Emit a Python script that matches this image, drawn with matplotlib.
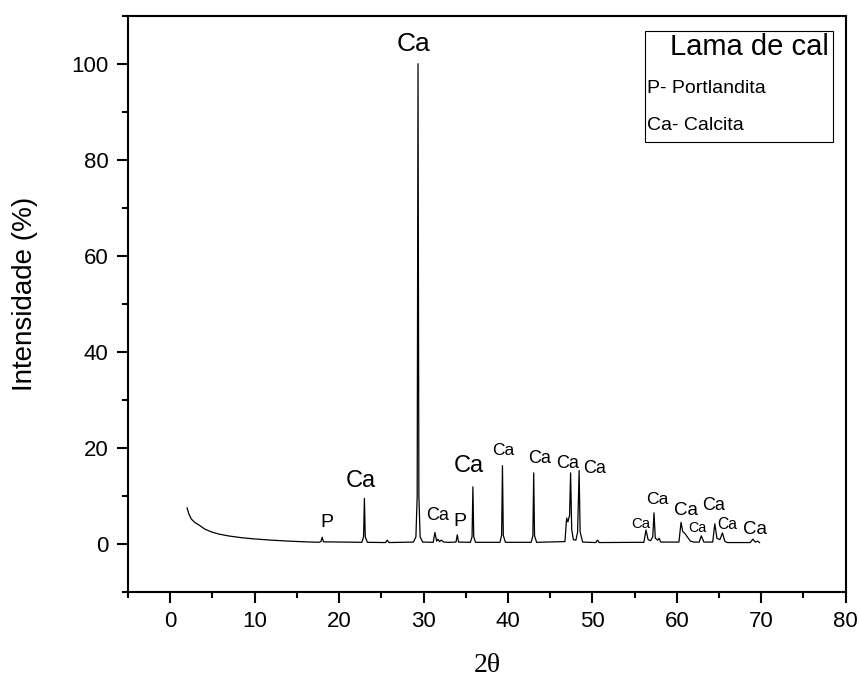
import matplotlib
matplotlib.use("Agg")
import matplotlib.pyplot as plt
from matplotlib.ticker import MultipleLocator
from matplotlib.patches import Rectangle

plt.rcParams['font.family'] = ['Liberation Sans', 'DejaVu Sans']

# difractograma da lama de cal (2theta, intensidade relativa %)
two_theta = [
    2.0, 2.2, 2.5, 2.9, 3.45, 4.1, 4.9, 5.8, 7.0, 8.5, 10.0, 12.0, 14.0, 16.0, 17.6,
    17.85, 18.0, 18.15,
    22.7, 22.9, 23.0, 23.1, 23.35,
    25.5, 25.7, 25.9,
    28.8, 29.1, 29.25, 29.35, 29.45, 29.6, 29.9,
    31.15, 31.35, 31.55, 31.7, 31.9, 32.1, 32.4, 33.0,
    33.85, 34.0, 34.15,
    35.55, 35.75, 35.85, 35.95, 36.15,
    39.05, 39.25, 39.35, 39.45, 39.7,
    42.75, 42.95, 43.05, 43.15, 43.4,
    46.75, 46.95, 47.1, 47.3, 47.42, 47.55, 47.75, 48.05, 48.25, 48.43, 48.55, 48.85,
    50.4, 50.6, 50.8,
    56.1, 56.35, 56.6, 56.9, 57.15, 57.3, 57.45, 57.75, 57.9, 58.1,
    60.25, 60.5, 60.7, 60.95, 61.2, 61.6, 62.0,
    62.65, 62.9, 63.2,
    64.25, 64.5, 64.75, 65.1, 65.4, 65.7, 66.0,
    68.7, 69.0, 69.3, 69.55, 69.8,
]
intensity = [
    7.5, 6.3, 5.2, 4.5, 3.9, 3.1, 2.5, 2.05, 1.65, 1.3, 1.05, 0.8, 0.6, 0.45, 0.35,
    0.5, 1.4, 0.45,
    0.35, 1.5, 9.5, 1.5, 0.35,
    0.3, 0.8, 0.3,
    0.4, 1.5, 10.0, 100.0, 10.0, 1.5, 0.4,
    0.35, 2.4, 0.6, 1.0, 0.5, 0.8, 0.4, 0.35,
    0.4, 1.9, 0.4,
    0.35, 1.5, 11.9, 1.5, 0.35,
    0.35, 1.8, 16.3, 1.8, 0.35,
    0.35, 1.7, 14.8, 1.7, 0.35,
    0.5, 5.4, 4.6, 6.0, 14.8, 3.0, 0.9, 0.8, 2.5, 15.3, 2.5, 0.4,
    0.3, 0.8, 0.3,
    0.35, 2.9, 0.9, 0.7, 1.5, 6.5, 1.2, 0.8, 1.2, 0.4,
    0.4, 4.5, 2.6, 2.2, 1.6, 0.6, 0.4,
    0.4, 1.7, 0.4,
    0.4, 4.2, 1.2, 0.9, 2.3, 0.5, 0.3,
    0.3, 1.0, 0.4, 0.6, 0.3,
]

# rótulos das fases: texto, x, y (linha de base), tamanho
peak_text = ['Ca', 'Ca', 'P', 'Ca', 'P', 'Ca', 'Ca', 'Ca', 'Ca', 'Ca',
             'Ca', 'Ca', 'Ca', 'Ca', 'Ca', 'Ca', 'Ca']
peak_x = [28.8, 22.55, 18.6, 31.64, 34.3, 35.4, 39.4, 43.7, 47.05, 50.3,
          55.76, 57.66, 61.1, 62.44, 64.3, 65.97, 69.3]
peak_y = [102.6, 11.94, 3.46, 5.0, 3.8, 14.9, 18.6, 16.8, 15.75, 14.85,
          3.33, 8.33, 6.1, 2.56, 7.08, 3.1, 2.08]
peak_size = [19, 17, 14, 13, 14, 17, 12.5, 13, 13, 13,
             10.7, 12.6, 13.5, 10.3, 13, 11.3, 13.5]

fig = plt.figure(figsize=(8.59, 6.79), dpi=100)
ax = fig.add_axes([0.149, 0.1281, 0.8355, 0.8488])

ax.plot(two_theta, intensity, color='black', linewidth=0.9)

for t, x, y, s in zip(peak_text, peak_x, peak_y, peak_size):
    ax.text(x, y, t, fontsize=s, ha='center', va='baseline')

ax.set_xlim(-5, 80)
ax.set_ylim(-10, 110)
ax.xaxis.set_major_locator(MultipleLocator(10))
ax.xaxis.set_minor_locator(MultipleLocator(5))
ax.yaxis.set_major_locator(MultipleLocator(20))
ax.yaxis.set_minor_locator(MultipleLocator(10))
ax.tick_params(which='major', direction='out', length=8, width=1.5,
               labelsize=16, pad=6)
ax.tick_params(which='minor', direction='out', length=4, width=1.5)
for sp in ax.spines.values():
    sp.set_linewidth(1.5)

ax.set_ylabel('Intensidade (%)', fontsize=20)
ax.yaxis.set_label_coords(-0.125, 0.517)
ax.set_xlabel('2θ', fontsize=20, family=['Liberation Serif', 'DejaVu Serif'])
ax.xaxis.set_label_coords(0.5, -0.105)

# caixa de legenda
ax.add_patch(Rectangle((0.720, 0.781), 0.262, 0.193, transform=ax.transAxes,
                       fill=False, edgecolor='black', linewidth=0.8))
ax.text(0.9768, 0.9457, 'Lama de cal', transform=ax.transAxes,
        fontsize=21, ha='right', va='center')
ax.text(0.7231, 0.8745, 'P- Portlandita', transform=ax.transAxes,
        fontsize=14, ha='left', va='center')
ax.text(0.7231, 0.8086, 'Ca- Calcita', transform=ax.transAxes,
        fontsize=14, ha='left', va='center')

fig.savefig('out.png', dpi=100)
